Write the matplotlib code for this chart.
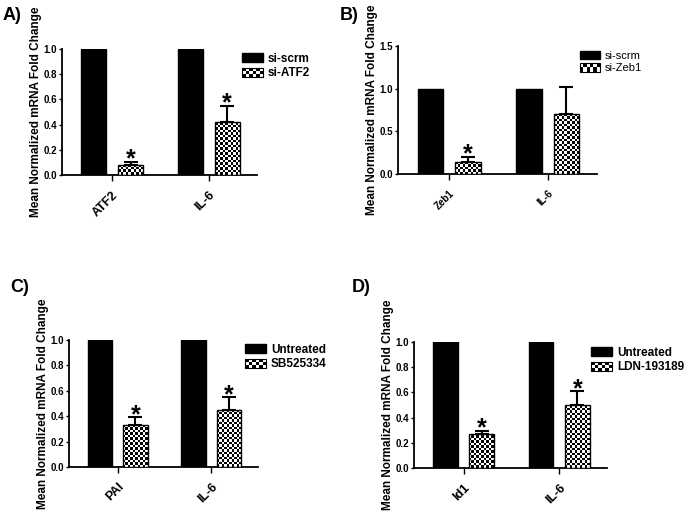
"""
Fold change in mRNA after knockdown / inhibitor treatment (four panels)
"""

#---------------------------------------------------------------------------------------------------
# Import Modules
#---------------------------------------------------------------------------------------------------

import numpy as np
import matplotlib
matplotlib.use('Agg')
import matplotlib.pyplot as plt
from matplotlib.patches import Rectangle
from matplotlib.legend_handler import HandlerBase


#---------------------------------------------------------------------------------------------------
# Input Parameters
#---------------------------------------------------------------------------------------------------

# Panel A
genes_a = ['ATF2', 'IL-6']
ctrl_a = [1.0, 1.0]
trt_a = [0.08, 0.42]
err_a = [0.025, 0.13]
sig_a = [True, True]
legend_a = ['si-scrm', 'si-ATF2']

# Panel B
genes_b = ['Zeb1', 'IL-6']
ctrl_b = [1.0, 1.0]
trt_b = [0.14, 0.70]
err_b = [0.06, 0.32]
sig_b = [True, False]
legend_b = ['si-scrm', 'si-Zeb1']

# Panel C
genes_c = ['PAI', 'IL-6']
ctrl_c = [1.0, 1.0]
trt_c = [0.33, 0.45]
err_c = [0.06, 0.10]
sig_c = [True, True]
legend_c = ['Untreated', 'SB525334']

# Panel D
genes_d = ['Id1', 'IL-6']
ctrl_d = [1.0, 1.0]
trt_d = [0.27, 0.50]
err_d = [0.025, 0.11]
sig_d = [True, True]
legend_d = ['Untreated', 'LDN-193189']

ylabel = 'Mean Normalized mRNA Fold Change'
out_fname = 'out.png'


#---------------------------------------------------------------------------------------------------
# Main Program
#---------------------------------------------------------------------------------------------------

plt.rcParams['font.family'] = ['Liberation Sans', 'DejaVu Sans']

W, H = 685, 515
fig = plt.figure(figsize=(W / 100, H / 100), dpi=100)

CELL = 2.5   # checker cell size in pixels


def checker(n_x, n_y):
    return (np.indices((n_y, n_x)).sum(axis=0) % 2).astype(float)


class CheckerHandler(HandlerBase):
    def create_artists(self, legend, orig_handle, xdescent, ydescent, width, height,
                       fontsize, trans):
        arts = [Rectangle((-xdescent, -ydescent), width, height, fc='white', ec='none',
                          transform=trans)]
        nx = max(int(round(width / CELL)), 1)
        ny = max(int(round(height / CELL)), 1)
        cw, ch = width / nx, height / ny
        for i in range(nx):
            for j in range(ny):
                if (i + j) % 2 == 0:
                    arts.append(Rectangle((-xdescent + i * cw, -ydescent + j * ch), cw, ch,
                                          fc='black', ec='none', transform=trans))
        arts.append(Rectangle((-xdescent, -ydescent), width, height, fc='none', ec='black',
                              lw=0.8, transform=trans))
        return arts


def px_rect(left, right, top, bottom):
    return [left / W, 1 - bottom / H, (right - left) / W, (bottom - top) / H]


def panel(rect, genes, ctrl, trt, err, sig, leg_labels, ymax, yticks, letter, letter_xy,
          leg_xy, xt_size=9, leg_size=8.5, leg_weight='bold'):
    ax = fig.add_axes(px_rect(*rect))
    x = np.arange(len(genes))
    wid, off = 0.26, 0.19
    ax.set_xlim(-0.52, 1.5)
    ax.set_ylim(0, ymax)

    b1 = ax.bar(x - off, ctrl, wid, color='black', edgecolor='black', lw=1, zorder=2)
    b2 = ax.bar(x + off, trt, wid, color='white', edgecolor='black', lw=1, zorder=4)
    ax.errorbar(x + off, trt, yerr=[np.zeros(len(err)), err], fmt='none', ecolor='black',
                elinewidth=1.5, capsize=5, capthick=1.5, zorder=3)

    # checkered fill clipped to each treated bar
    fig.canvas.draw()
    for bar in b2:
        x0, y0 = bar.get_x(), 0
        x1, y1 = x0 + bar.get_width(), bar.get_height()
        p0 = ax.transData.transform((x0, y0))
        p1 = ax.transData.transform((x1, y1))
        nx = max(int(round((p1[0] - p0[0]) / CELL)), 1)
        ny = max(int(round((p1[1] - p0[1]) / CELL)), 1)
        im = ax.imshow(checker(nx, ny), cmap='gray', extent=(x0, x1, y0, y1),
                       interpolation='nearest', aspect='auto', zorder=3.5)
        im.set_clip_path(bar)
        bar.set_facecolor('none')
    ax.set_xlim(-0.52, 1.5)
    ax.set_ylim(0, ymax)

    for xi, v, e, s in zip(x, trt, err, sig):
        if s:
            ax.annotate('*', (xi + off, v + e), xytext=(0, -3.5), textcoords='offset points',
                        ha='center', va='baseline', fontsize=18, fontweight='bold', zorder=5)

    for sp in ['top', 'right']:
        ax.spines[sp].set_visible(False)
    for sp in ['left', 'bottom']:
        ax.spines[sp].set_linewidth(1.3)

    ax.set_yticks(yticks)
    ax.set_yticklabels([f"{t:.1f}" for t in yticks], fontsize=7, fontweight='bold')
    ax.tick_params(axis='y', length=2.5, width=1, pad=1)
    ax.set_xticks(x)
    ax.set_xticklabels(genes, rotation=45, ha='right', va='top', rotation_mode='anchor',
                       fontsize=xt_size, fontweight='bold')
    ax.tick_params(axis='x', length=4, width=1, pad=6)
    ax.set_ylabel(ylabel, fontsize=8.5, fontweight='bold', labelpad=1)

    fig.text(letter_xy[0] / W, 1 - letter_xy[1] / H, letter, fontsize=13, fontweight='bold',
             ha='left', va='center')

    h2 = Rectangle((0, 0), 1, 1)
    ax.legend([b1, h2], leg_labels, handler_map={h2: CheckerHandler()},
              loc='center left', bbox_to_anchor=(leg_xy[0] / W, 1 - leg_xy[1] / H),
              bbox_transform=fig.transFigure, frameon=False, borderpad=0, borderaxespad=0,
              handlelength=1.8, handleheight=0.8, handletextpad=0.4, labelspacing=0.2,
              prop={'size': leg_size, 'weight': leg_weight})
    return ax


panel((62, 257, 49, 175), genes_a, ctrl_a, trt_a, err_a, sig_a, legend_a, 1.0,
      [0, 0.2, 0.4, 0.6, 0.8, 1.0], 'A)', (3, 15), (242, 66))
panel((398, 597, 46, 174), genes_b, ctrl_b, trt_b, err_b, sig_b, legend_b, 1.5,
      [0, 0.5, 1.0, 1.5], 'B)', (340, 15), (580, 62), xt_size=7, leg_size=8,
      leg_weight='normal')
panel((69, 258, 340, 467), genes_c, ctrl_c, trt_c, err_c, sig_c, legend_c, 1.0,
      [0, 0.2, 0.4, 0.6, 0.8, 1.0], 'C)', (10, 287), (245, 357))
panel((414, 607, 342, 468), genes_d, ctrl_d, trt_d, err_d, sig_d, legend_d, 1.0,
      [0, 0.2, 0.4, 0.6, 0.8, 1.0], 'D)', (352, 287), (591, 360))

plt.savefig(out_fname, dpi=100)
plt.close()
